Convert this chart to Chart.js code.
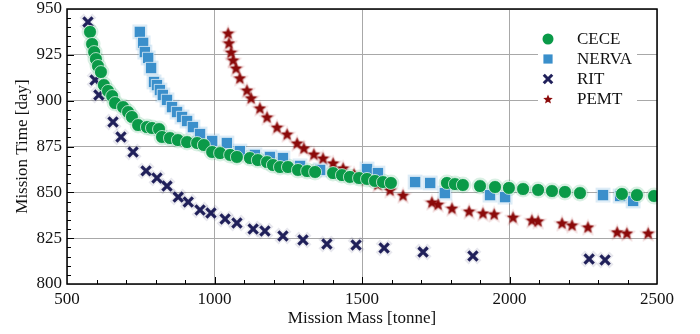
<!DOCTYPE html>
<html>
<head>
<meta charset="utf-8">
<script src="https://cdn.jsdelivr.net/npm/chart.js@4"></script>
<style>
  html, body { margin: 0; padding: 0; background: #fff; }
  #wrap { width: 700px; height: 334px; }
</style>
</head>
<body>
<div id="wrap"><canvas id="chart" width="700" height="334"></canvas></div>
<script>
// values: [mass tonne, time day]
const ceceMass = [578, 585, 592, 598, 605, 615, 625, 639, 653, 663, 690, 707, 720, 741, 771, 788, 812, 822, 849, 876, 907, 941, 964, 992, 1019, 1053, 1076, 1120, 1147, 1178, 1198, 1222, 1249, 1283, 1314, 1341, 1402, 1432, 1459, 1490, 1517, 1544, 1571, 1598, 1788, 1815, 1842, 1900, 1951, 1998, 2046, 2097, 2144, 2188, 2239, 2381, 2432, 2490];
const ceceTime = [937.5, 930.9, 926.5, 922.7, 918.9, 915.6, 908.5, 905.3, 902.5, 898.7, 896.5, 893.8, 891.1, 886.7, 885.6, 885.1, 884.5, 880.2, 879.6, 878.5, 877.4, 876.9, 875.8, 872.0, 871.4, 870.4, 869.3, 868.7, 867.6, 866.5, 864.9, 863.8, 863.8, 862.2, 861.6, 861.1, 860.5, 859.4, 858.4, 857.8, 857.3, 856.2, 855.6, 855.1, 855.1, 854.5, 854.0, 853.4, 852.9, 852.4, 851.8, 851.3, 850.7, 850.2, 849.6, 849.1, 848.5, 848.0];

const nervaMass = [747, 758, 764, 775, 785, 795, 805, 815, 825, 839, 856, 873, 890, 907, 927, 951, 992, 1042, 1086, 1137, 1188, 1232, 1290, 1358, 1517, 1554, 1680, 1731, 1781, 1934, 1985, 2317, 2375, 2419];
const nervaTime = [937.5, 931.5, 926.5, 923.3, 917.8, 910.2, 908.5, 905.8, 903.1, 900.4, 896.5, 893.8, 891.1, 888.9, 885.6, 881.8, 878.0, 876.9, 872.5, 870.4, 869.3, 868.7, 864.4, 862.2, 862.7, 860.5, 855.6, 855.1, 849.6, 848.5, 847.4, 848.5, 848.0, 845.3];

const ritMass = [571, 595, 608, 656, 683, 724, 768, 805, 839, 877, 911, 951, 988, 1036, 1076, 1131, 1171, 1232, 1300, 1381, 1480, 1575, 1707, 1876, 2270, 2324];
const ritTime = [942.9, 911.3, 903.1, 888.4, 880.2, 872.0, 861.7, 857.8, 853.4, 847.4, 844.7, 840.4, 838.7, 835.5, 833.3, 830.0, 828.9, 826.2, 824.0, 821.8, 821.3, 819.6, 817.4, 815.3, 813.6, 813.1];

const pemtMass = [1046, 1049, 1056, 1063, 1073, 1086, 1110, 1124, 1154, 1178, 1212, 1246, 1280, 1303, 1337, 1368, 1402, 1436, 1473, 1514, 1554, 1595, 1639, 1737, 1758, 1805, 1863, 1910, 1948, 2012, 2076, 2097, 2178, 2212, 2266, 2365, 2398, 2470];
const pemtTime = [936.9, 931.5, 926.5, 922.2, 917.8, 912.4, 905.8, 901.5, 896.0, 891.1, 885.6, 881.8, 876.9, 874.2, 870.9, 868.7, 866.0, 863.3, 860.0, 857.3, 854.5, 851.3, 848.5, 844.7, 843.6, 841.4, 839.8, 838.7, 838.2, 836.5, 834.9, 834.4, 833.3, 832.2, 831.1, 828.4, 827.8, 827.8];

const seriesNames = ["CECE", "NERVA", "RIT", "PEMT"];
const xRange = [500, 2500];
const yRange = [800, 950];

const FONT = "'Liberation Serif', 'Times New Roman', serif";

function pairs(xs, ys) {
    return xs.map((x, i) => ({ x: x, y: ys[i] }));
}

// filled five point star as a point image
function makeStar(size, color) {
    const c = document.createElement('canvas');
    c.width = size; c.height = size;
    const g = c.getContext('2d');
    const cx = size / 2, cy = size / 2 + size * 0.05, ro = size / 2, ri = ro * 0.45;
    g.beginPath();
    for (let i = 0; i < 10; i++) {
        const r = i % 2 === 0 ? ro : ri;
        const a = -Math.PI / 2 + i * Math.PI / 5;
        g.lineTo(cx + r * Math.cos(a), cy + r * Math.sin(a));
    }
    g.closePath();
    g.fillStyle = color;
    g.fill();
    return c;
}

const starBig = makeStar(13, '#8b0a0a');
const starHalo = makeStar(19, 'rgba(160,20,20,0.16)');
const starSmall = makeStar(10, '#8b0a0a');

// minor ticks, frame and inner legend
const framePlugin = {
    id: 'frame',
    afterDraw(chart) {
        const { ctx, chartArea: a, scales } = chart;
        ctx.save();
        ctx.strokeStyle = '#000';
        ctx.lineWidth = 1;
        for (let v = xRange[0] + 100; v < xRange[1]; v += 100) {
            const px = Math.round(scales.x.getPixelForValue(v)) + 0.5;
            const len = v % 500 === 0 ? 7 : 4;
            ctx.beginPath();
            ctx.moveTo(px, a.bottom);
            ctx.lineTo(px, a.bottom - len);
            ctx.stroke();
        }
        for (let v = yRange[0] + 5; v < yRange[1]; v += 5) {
            const py = Math.round(scales.y.getPixelForValue(v)) + 0.5;
            const len = v % 25 === 0 ? 7 : 4;
            ctx.beginPath();
            ctx.moveTo(a.left, py);
            ctx.lineTo(a.left + len, py);
            ctx.stroke();
        }
        ctx.lineWidth = 1.5;
        ctx.strokeRect(a.left, a.top, a.right - a.left, a.bottom - a.top);

        // legend box
        ctx.fillStyle = '#fff';
        ctx.fillRect(538, 26, 99, 86);
        const styles = [
            { style: 'circle', r: 5.5, color: '#0a9a48' },
            { style: 'rect', r: 6.5, color: '#3a8fcb' },
            { style: 'crossRot', r: 6, color: '#20205a', bw: 3 },
            { style: starSmall, r: 5, color: '#8b0a0a' }
        ];
        ctx.font = '17px ' + FONT;
        ctx.textBaseline = 'middle';
        seriesNames.forEach((name, i) => {
            const y = 39 + i * 20;
            const s = styles[i];
            ctx.fillStyle = s.color;
            ctx.strokeStyle = s.color;
            ctx.lineWidth = s.bw || 1;
            Chart.helpers.drawPoint(ctx, { pointStyle: s.style, radius: s.r, borderWidth: s.bw || 0, rotation: 0 }, 548, y);
            ctx.fillStyle = '#111';
            ctx.fillText(name, 577, y + 1);
        });
        ctx.restore();
    }
};

const ctx = document.getElementById('chart').getContext('2d');
new Chart(ctx, {
    type: 'scatter',
    data: {
        datasets: [
            {
                label: seriesNames[0],
                data: pairs(ceceMass, ceceTime),
                pointStyle: 'circle',
                pointRadius: 6.5,
                backgroundColor: '#0a9a48',
                borderColor: 'rgba(255,255,255,0.85)',
                borderWidth: 0.8
            },
            {
                label: seriesNames[1],
                data: pairs(nervaMass, nervaTime),
                pointStyle: 'rect',
                pointRadius: 8,
                backgroundColor: '#3a8fcb',
                borderColor: 'rgba(255,255,255,0.85)',
                borderWidth: 0.8
            },
            {
                label: seriesNames[2],
                data: pairs(ritMass, ritTime),
                pointStyle: 'crossRot',
                pointRadius: 6.5,
                backgroundColor: '#20205a',
                borderColor: '#20205a',
                borderWidth: 3.2
            },
            {
                label: seriesNames[3],
                data: pairs(pemtMass, pemtTime),
                pointStyle: starBig,
                pointRadius: 6,
                backgroundColor: '#8b0a0a',
                borderColor: '#8b0a0a'
            },
            // faint halos under the markers (drawn first, so behind)
            {
                label: 'halo',
                data: pairs(ceceMass, ceceTime),
                pointStyle: 'circle',
                pointRadius: 8.5,
                backgroundColor: 'rgba(10,154,72,0.15)',
                borderWidth: 0
            },
            {
                label: 'halo',
                data: pairs(nervaMass, nervaTime),
                pointStyle: 'rect',
                pointRadius: 10.5,
                backgroundColor: 'rgba(58,143,203,0.18)',
                borderWidth: 0
            },
            {
                label: 'halo',
                data: pairs(ritMass, ritTime),
                pointStyle: 'crossRot',
                pointRadius: 9,
                backgroundColor: 'rgba(32,32,90,0.1)',
                borderColor: 'rgba(32,32,90,0.1)',
                borderWidth: 6
            },
            {
                label: 'halo',
                data: pairs(pemtMass, pemtTime),
                pointStyle: starHalo,
                pointRadius: 9
            }
        ]
    },
    options: {
        responsive: false,
        animation: false,
        layout: { autoPadding: false, padding: { top: 9, right: 43, left: 8, bottom: 0 } },
        plugins: {
            legend: { display: false },
            tooltip: { enabled: false }
        },
        scales: {
            x: {
                type: 'linear',
                min: xRange[0],
                max: xRange[1],
                ticks: {
                    stepSize: 500,
                    color: '#111',
                    padding: 5,
                    maxRotation: 0,
                    font: { family: FONT, size: 17 },
                    callback: v => String(v)
                },
                grid: { color: '#a8a8a8', lineWidth: 1, drawTicks: false },
                border: { display: false },
                title: {
                    display: true,
                    text: 'Mission Mass [tonne]',
                    color: '#111',
                    font: { family: FONT, size: 17 },
                    padding: { top: 2, bottom: 5 }
                },
                afterFit(s) { s.height = 50; s.paddingLeft = 0; s.paddingRight = 0; }
            },
            y: {
                type: 'linear',
                min: yRange[0],
                max: yRange[1],
                ticks: {
                    stepSize: 25,
                    color: '#111',
                    padding: 5,
                    font: { family: FONT, size: 17 },
                    callback: v => String(v)
                },
                grid: { color: '#a8a8a8', lineWidth: 1, drawTicks: false },
                border: { display: false },
                title: {
                    display: true,
                    text: 'Mission Time [day]',
                    color: '#111',
                    font: { family: FONT, size: 17 },
                    padding: { top: 4, bottom: 4 }
                },
                afterFit(s) { s.width = 59; s.paddingTop = 0; s.paddingBottom = 0; }
            }
        }
    },
    plugins: [framePlugin]
});
</script>
</body>
</html>
